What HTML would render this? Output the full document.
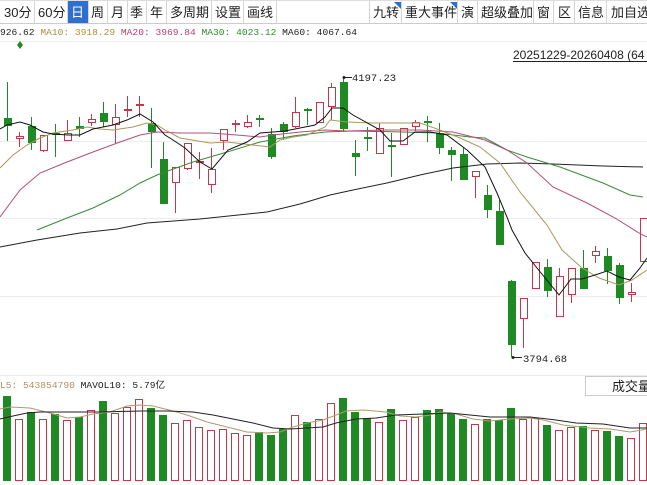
<!DOCTYPE html>
<html><head><meta charset="utf-8"><style>
html,body{margin:0;padding:0;background:#fff;width:647px;height:485px;overflow:hidden}
svg{display:block}
.tb{font-family:"Liberation Sans","Noto Sans CJK SC",sans-serif;font-size:13px;fill:#222}
.m{font-family:"Liberation Mono","Noto Sans CJK SC",monospace;font-size:9.6px}
</style></head><body>
<svg width="647" height="485" xmlns="http://www.w3.org/2000/svg">
<rect x="0" y="0" width="647" height="23" fill="#fff"/>
<line x1="0" y1="23.5" x2="647" y2="23.5" stroke="#ccc"/>
<line x1="0" y1="0.5" x2="647" y2="0.5" stroke="#ddd"/>
<rect x="68" y="1" width="20" height="22" fill="#2e6fd0"/>
<g stroke="#d4d4d4">
<line x1="34.5" y1="1" x2="34.5" y2="23"/><line x1="67.5" y1="1" x2="67.5" y2="23"/><line x1="88.5" y1="1" x2="88.5" y2="23"/><line x1="107.5" y1="1" x2="107.5" y2="23"/><line x1="127.5" y1="1" x2="127.5" y2="23"/><line x1="146.5" y1="1" x2="146.5" y2="23"/><line x1="166.5" y1="1" x2="166.5" y2="23"/><line x1="211.5" y1="1" x2="211.5" y2="23"/><line x1="243.5" y1="1" x2="243.5" y2="23"/><line x1="276.5" y1="1" x2="276.5" y2="23"/>
<line x1="369.5" y1="1" x2="369.5" y2="23"/><line x1="401.5" y1="1" x2="401.5" y2="23"/><line x1="457.5" y1="1" x2="457.5" y2="23"/><line x1="477.5" y1="1" x2="477.5" y2="23"/><line x1="533.5" y1="1" x2="533.5" y2="23"/><line x1="553.5" y1="1" x2="553.5" y2="23"/><line x1="574.5" y1="1" x2="574.5" y2="23"/><line x1="606.5" y1="1" x2="606.5" y2="23"/>
</g>
<g class="tb">
<text x="4" y="17">30分</text><text x="38" y="17">60分</text><text x="71" y="17" fill="#fff">日</text><text x="91" y="17">周</text><text x="111" y="17">月</text><text x="130" y="17">季</text><text x="150" y="17">年</text><text x="170" y="17">多周期</text><text x="215" y="17">设置</text><text x="247" y="17">画线</text>
<text x="373" y="17">九转</text><text x="405" y="17">重大事件</text><text x="461" y="17">演</text><text x="481" y="17">超级叠加</text><text x="537" y="17">窗</text><text x="558" y="17">区</text><text x="578" y="17">信息</text><text x="611" y="17">加自选</text>
</g>
<polygon points="394,2 401,2 401,9" fill="#2e6fd0"/><polygon points="450,2 457,2 457,9" fill="#2e6fd0"/>
<text class="m" y="35" x="0"><tspan fill="#222">926.62 </tspan><tspan fill="#a8903c">MA10: 3918.29 </tspan><tspan fill="#b0407a">MA20: 3969.84 </tspan><tspan fill="#2e8b2e">MA30: 4023.12 </tspan><tspan fill="#222">MA60: 4067.64</tspan></text>
<line x1="0" y1="41.5" x2="647" y2="41.5" stroke="#eee"/>
<polygon points="20,41 23,45 20,49 17,45" fill="#1f8a24"/>
<text x="513" y="59" font-family="Liberation Sans,sans-serif" font-size="12" fill="#222">20251229-20260408 (64</text>
<line x1="513" y1="61.5" x2="647" y2="61.5" stroke="#222"/>
<g stroke="#ececec"><line x1="0" y1="141.5" x2="647" y2="141.5"/><line x1="0" y1="218.5" x2="647" y2="218.5"/><line x1="0" y1="296.5" x2="647" y2="296.5"/><line x1="0" y1="375.5" x2="647" y2="375.5"/></g>

<!-- green wicks -->
<g stroke="#1f8a24">
<line x1="7.5" y1="82" x2="7.5" y2="141"/><line x1="31.5" y1="117" x2="31.5" y2="150"/><line x1="55.5" y1="124" x2="55.5" y2="157"/><line x1="79.5" y1="117" x2="79.5" y2="137"/><line x1="103.5" y1="102" x2="103.5" y2="127"/><line x1="151.5" y1="108" x2="151.5" y2="168"/><line x1="163.5" y1="142" x2="163.5" y2="204"/><line x1="259.5" y1="115" x2="259.5" y2="127"/><line x1="271.5" y1="128" x2="271.5" y2="159"/><line x1="283.5" y1="122" x2="283.5" y2="140"/><line x1="307.5" y1="108" x2="307.5" y2="125"/><line x1="343.5" y1="77" x2="343.5" y2="132"/><line x1="355.5" y1="140" x2="355.5" y2="176"/><line x1="367.5" y1="127" x2="367.5" y2="151"/><line x1="391.5" y1="133" x2="391.5" y2="177"/><line x1="427.5" y1="116" x2="427.5" y2="142"/><line x1="439.5" y1="123" x2="439.5" y2="154"/><line x1="451.5" y1="147" x2="451.5" y2="181"/><line x1="463.5" y1="148" x2="463.5" y2="180"/><line x1="487.5" y1="185" x2="487.5" y2="218"/><line x1="499.5" y1="200" x2="499.5" y2="245"/><line x1="511.5" y1="280" x2="511.5" y2="357"/><line x1="547.5" y1="259" x2="547.5" y2="297"/><line x1="583.5" y1="250" x2="583.5" y2="289"/><line x1="607.5" y1="248" x2="607.5" y2="284"/><line x1="619.5" y1="263" x2="619.5" y2="304"/>
</g>
<g fill="#1f8a24">
<rect x="4" y="118" width="8" height="8"/><rect x="28" y="126" width="8" height="17"/><rect x="52" y="133" width="8" height="2"/><rect x="76" y="126" width="8" height="3"/><rect x="100" y="113" width="8" height="9"/><rect x="148" y="123" width="8" height="9"/><rect x="160" y="159" width="8" height="45"/><rect x="256" y="118" width="8" height="2"/><rect x="268" y="134" width="8" height="23"/><rect x="280" y="124" width="8" height="8"/><rect x="304" y="109" width="8" height="2"/><rect x="340" y="82" width="8" height="47"/><rect x="352" y="153" width="8" height="4"/><rect x="364" y="137" width="8" height="2"/><rect x="388" y="145" width="8" height="2"/><rect x="424" y="121" width="8" height="2"/><rect x="436" y="133" width="8" height="15"/><rect x="448" y="150" width="8" height="5"/><rect x="460" y="154" width="8" height="26"/><rect x="484" y="195" width="8" height="15"/><rect x="496" y="211" width="8" height="34"/><rect x="508" y="281" width="8" height="64"/><rect x="544" y="267" width="8" height="24"/><rect x="580" y="268" width="8" height="21"/><rect x="604" y="256" width="8" height="15"/><rect x="616" y="265" width="8" height="33"/>
</g>
<!-- red -->
<g stroke="#c0394a">
<line x1="19.5" y1="132" x2="19.5" y2="147"/><line x1="43.5" y1="135" x2="43.5" y2="152"/><line x1="67.5" y1="120" x2="67.5" y2="141"/><line x1="91.5" y1="114" x2="91.5" y2="126"/><line x1="115.5" y1="104" x2="115.5" y2="143"/><line x1="127.5" y1="96" x2="127.5" y2="117"/><line x1="139.5" y1="96" x2="139.5" y2="117"/><line x1="175.5" y1="167" x2="175.5" y2="213"/><line x1="187.5" y1="143" x2="187.5" y2="170"/><line x1="199.5" y1="152" x2="199.5" y2="179"/><line x1="211.5" y1="148" x2="211.5" y2="193"/><line x1="223.5" y1="129" x2="223.5" y2="150"/><line x1="235.5" y1="120" x2="235.5" y2="132"/><line x1="247.5" y1="115" x2="247.5" y2="128"/><line x1="295.5" y1="97" x2="295.5" y2="128"/><line x1="331.5" y1="83" x2="331.5" y2="120"/><line x1="379.5" y1="123" x2="379.5" y2="154"/><line x1="415.5" y1="120" x2="415.5" y2="131"/><line x1="475.5" y1="171" x2="475.5" y2="198"/><line x1="523.5" y1="298" x2="523.5" y2="348"/><line x1="559.5" y1="268" x2="559.5" y2="317"/><line x1="571.5" y1="268" x2="571.5" y2="303"/><line x1="595.5" y1="246" x2="595.5" y2="263"/><line x1="631.5" y1="283" x2="631.5" y2="302"/>
</g>
<g fill="#fff" stroke="#c0394a">
<rect x="16.5" y="136.5" width="7" height="2"/><rect x="40.5" y="135.5" width="7" height="15"/><rect x="64.5" y="133.5" width="7" height="7"/><rect x="88.5" y="119.5" width="7" height="3"/><rect x="112.5" y="117.5" width="7" height="7"/><rect x="124.5" y="109.5" width="7" height="1"/><rect x="136.5" y="104.5" width="7" height="1"/><rect x="172.5" y="167.5" width="7" height="15"/><rect x="184.5" y="143.5" width="7" height="25"/><rect x="196.5" y="161.5" width="7" height="1"/><rect x="208.5" y="169.5" width="7" height="15"/><rect x="220.5" y="129.5" width="7" height="11"/><rect x="232.5" y="123.5" width="7" height="1"/><rect x="244.5" y="122.5" width="7" height="4"/><rect x="292.5" y="112.5" width="7" height="14"/><rect x="316.5" y="102.5" width="7" height="20"/><rect x="328.5" y="87.5" width="7" height="19"/><rect x="376.5" y="128.5" width="7" height="25"/><rect x="400.5" y="128.5" width="7" height="16"/><rect x="412.5" y="122.5" width="7" height="4"/><rect x="472.5" y="171.5" width="7" height="5"/><rect x="520.5" y="298.5" width="7" height="20"/><rect x="532.5" y="262.5" width="7" height="26"/><rect x="556.5" y="276.5" width="7" height="40"/><rect x="568.5" y="268.5" width="7" height="26"/><rect x="592.5" y="251.5" width="7" height="4"/><rect x="628.5" y="292.5" width="7" height="2"/><rect x="640.5" y="218.5" width="7" height="43"/>
</g>

<g fill="none" stroke-width="1">
<polyline stroke="#222" points="0,247 37,240 80,233 117,229 147,223 200,219 267,212 300,204 330,195 353,190 387,183 420,175 453,168 487,164 520,163 553,164 603,166 643,167"/>
<polyline stroke="#3a8a3a" points="37,230 67,218 93,208 120,195 140,183 157,175 165,172 193,162 227,152 260,142 293,136 325,132 353,131 403,132 437,133 470,137 485,138 507,150 527,157 560,167 603,183 630,195 643,197"/>
<polyline stroke="#b0507a" points="0,217 20,190 40,173 67,162 93,152 120,142 140,135 157,132 180,133 210,133 237,135 260,137 273,135 300,132 325,130 347,131 387,130 420,130 453,132 485,140 507,150 527,163 553,187 587,203 615,218 639,233 647,237"/>
<polyline stroke="#a8985c" points="0,168 13,155 27,145 40,138 53,133 73,130 87,127 100,129 113,130 133,127 147,123 157,125 165,130 180,138 210,143 227,142 253,145 270,147 280,140 293,137 307,135 325,127 330,120 347,122 373,123 393,123 420,123 440,130 460,138 480,147 500,163 520,192 547,225 562,250 582,268 599,278 619,285 632,280 647,270"/>
<polyline stroke="#111" points="0,129 7,125 20,122 30,125 43,132 53,134 68,135 80,135 93,129 113,125 127,120 140,114 153,122 165,135 173,140 185,148 200,162 212,169 228,150 247,142 260,133 273,132 285,131 300,128 315,125 325,117 332,108 343,108 353,115 380,130 390,141 403,141 415,132 430,132 447,135 467,150 485,167 497,193 507,217 512,230 525,253 537,268 559,295 571,279 582,279 595,275 607,271 619,277 630,280 640,268 647,258"/>
</g>
<text x="352" y="81" font-family="Liberation Mono,monospace" font-size="10.5" fill="#222">4197.23</text>
<line x1="343" y1="77.5" x2="352" y2="77.5" stroke="#222"/><circle cx="344" cy="77.5" r="1.5" fill="#222"/>
<text x="523" y="362" font-family="Liberation Mono,monospace" font-size="10.5" fill="#222">3794.68</text>
<line x1="512" y1="357.5" x2="522" y2="357.5" stroke="#222"/><circle cx="513" cy="357.5" r="1.5" fill="#222"/>
<text class="m" x="0" y="388"><tspan fill="#b09060">L5: 543854790 </tspan><tspan fill="#222">MAVOL10: 5.79亿</tspan></text>
<rect x="585.5" y="376.5" width="62" height="19" fill="#fff" stroke="#ccc"/>
<text x="612" y="391" class="tb" font-size="13">成交量</text>

<g fill="#1f8a24">
<rect x="3" y="396" width="8" height="85"/><rect x="27" y="412" width="8" height="69"/><rect x="51" y="414" width="8" height="67"/><rect x="75" y="417" width="8" height="64"/><rect x="99" y="401" width="8" height="80"/><rect x="147" y="408" width="8" height="73"/><rect x="159" y="415" width="8" height="66"/><rect x="255" y="432" width="8" height="49"/><rect x="267" y="435" width="8" height="46"/><rect x="279" y="429" width="8" height="52"/><rect x="303" y="422" width="8" height="59"/><rect x="339" y="398" width="8" height="83"/><rect x="351" y="412" width="8" height="69"/><rect x="363" y="418" width="8" height="63"/><rect x="387" y="409" width="8" height="72"/><rect x="423" y="410" width="8" height="71"/><rect x="435" y="409" width="8" height="72"/><rect x="447" y="413" width="8" height="68"/><rect x="459" y="419" width="8" height="62"/><rect x="483" y="419" width="8" height="62"/><rect x="495" y="420" width="8" height="61"/><rect x="507" y="408" width="8" height="73"/><rect x="543" y="425" width="8" height="56"/><rect x="579" y="426" width="8" height="55"/><rect x="603" y="431" width="8" height="50"/><rect x="615" y="436" width="8" height="45"/>
</g>
<g fill="#fff" stroke="#c0394a">
<rect x="15.5" y="419.5" width="7" height="61"/><rect x="39.5" y="419.5" width="7" height="61"/><rect x="63.5" y="420.5" width="7" height="60"/><rect x="87.5" y="410.5" width="7" height="70"/><rect x="111.5" y="413.5" width="7" height="67"/><rect x="123.5" y="407.5" width="7" height="73"/><rect x="135.5" y="399.5" width="7" height="81"/><rect x="171.5" y="423.5" width="7" height="57"/><rect x="183.5" y="420.5" width="7" height="60"/><rect x="195.5" y="427.5" width="7" height="53"/><rect x="207.5" y="430.5" width="7" height="50"/><rect x="219.5" y="429.5" width="7" height="51"/><rect x="231.5" y="433.5" width="7" height="47"/><rect x="243.5" y="435.5" width="7" height="45"/><rect x="291.5" y="415.5" width="7" height="65"/><rect x="315.5" y="419.5" width="7" height="61"/><rect x="327.5" y="403.5" width="7" height="77"/><rect x="375.5" y="422.5" width="7" height="58"/><rect x="399.5" y="420.5" width="7" height="60"/><rect x="411.5" y="417.5" width="7" height="63"/><rect x="471.5" y="424.5" width="7" height="56"/><rect x="519.5" y="419.5" width="7" height="61"/><rect x="531.5" y="418.5" width="7" height="62"/><rect x="555.5" y="430.5" width="7" height="50"/><rect x="567.5" y="427.5" width="7" height="53"/><rect x="591.5" y="430.5" width="7" height="50"/><rect x="627.5" y="438.5" width="7" height="42"/><rect x="639.5" y="423.5" width="7" height="57"/>
</g>
<g fill="none">
<polyline stroke="#b09a70" points="0,409 10,407 30,408 50,413 67,418 80,417 93,414 110,412 127,406 140,405 153,406 173,411 187,415 207,422 227,427 247,432 267,433 280,432 293,427 307,423 323,420 336,415 346,411 363,410 386,412 400,416 416,417 430,415 440,412 456,414 473,419 490,421 510,419 530,418 543,420 563,425 590,428 610,429 630,432 647,429"/>
<polyline stroke="#222" points="0,419 13,416 27,413 40,412 100,412 140,411 167,411 193,412 213,415 233,419 253,423 273,428 290,429 307,428 323,427 336,423 356,419 376,418 396,415 423,414 450,413 470,415 490,417 530,417 556,420 576,423 603,424 630,428 647,428"/>
</g>
</svg>
</body></html>
